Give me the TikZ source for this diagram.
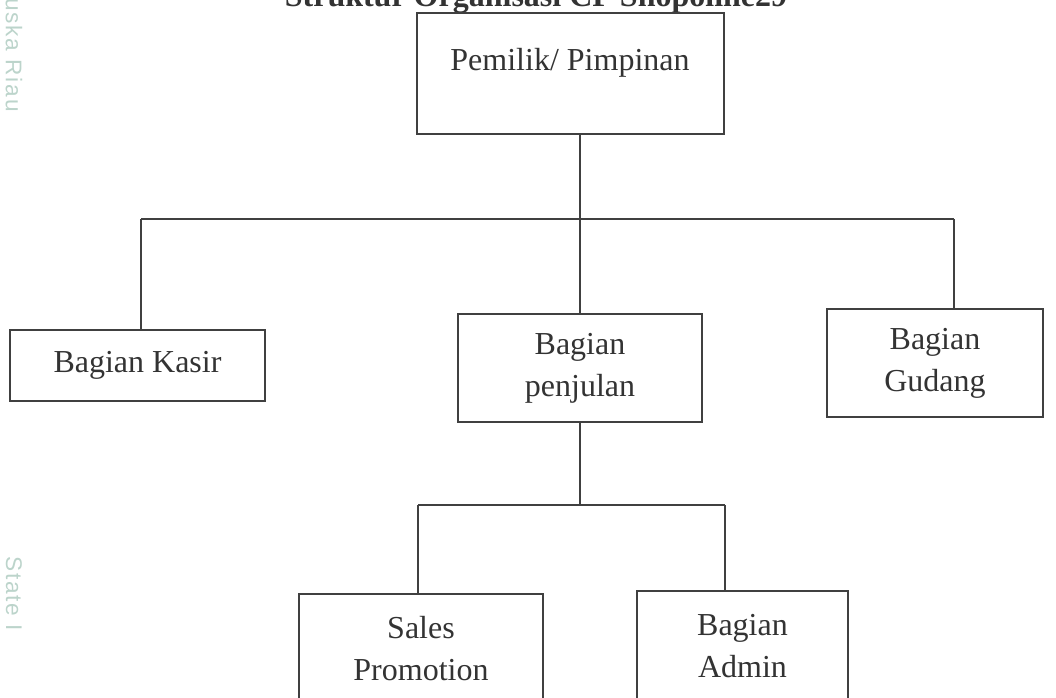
\documentclass[tikz,border=0pt]{standalone}
\usepackage{fontspec}
\setmainfont{Liberation Serif}
\newfontfamily\tandaair[LetterSpace=8]{Liberation Sans}
\usepackage{tikz}
\usetikzlibrary{positioning}
\definecolor{garis}{RGB}{64,64,64}
\definecolor{teks}{RGB}{51,51,51}
\definecolor{tanda}{RGB}{188,212,203}

\begin{document}
\begin{tikzpicture}[x=0.75pt,y=-0.75pt,
    kotak/.style={draw=garis,line width=1.2pt,rectangle,inner sep=0pt,align=center,
      text=teks,font=\fontsize{24}{31.5}\selectfont},
    garishub/.style={draw=garis,line width=1.2pt},
    tandateks/.style={rotate=-90,anchor=west,inner sep=0pt,text=tanda,
      font=\tandaair\fontsize{17}{17}\selectfont}]
    \useasboundingbox (0,0) rectangle (1056,698);
    \clip (0,0) rectangle (1056,698);
    % Tanda air di tepi kiri
    \node[tandateks] (tandaatas) at (14,-2) {uska Riau};
    \node[tandateks] (tandabawah) at (14,556) {State I};
    % Judul (terpotong di atas)
    \node[anchor=base,inner sep=0pt,text=teks,font=\bfseries\fontsize{24}{24}\selectfont] (judul) at (536,7) {Struktur Organisasi CP Shopoline29};
    % Kotak pimpinan
    \node[kotak,minimum width=230.25pt,minimum height=90.75pt] (pemilik) at (570.5,73.5) {};
    \node[anchor=base,inner sep=0pt,text=teks,font=\fontsize{24}{24}\selectfont] (pemilikteks) at (570,71) {Pemilik/ Pimpinan};
    % Bagian-bagian
    \node[kotak,minimum width=191.25pt,minimum height=53.25pt] (kasir) at (137.5,365.5) {Bagian Kasir};
    \node[kotak,minimum width=183pt,minimum height=81pt] (penjualan) at (580,368) {Bagian\\penjulan};
    \node[kotak,minimum width=162pt,minimum height=81pt] (gudang) at (935,363) {Bagian\\Gudang};
    \node[kotak,minimum width=183pt,minimum height=82.5pt] (sales) at (421,649) {Sales\\Promotion};
    \node[kotak,minimum width=158.25pt,minimum height=82.5pt] (admin) at (742.5,646) {Bagian\\Admin};
    % Garis ke bagian
    \coordinate (busKiri) at (141,219);
    \coordinate (busKanan) at (954,219);
    \draw[garishub] (pemilik.south -| penjualan.north) -- (penjualan.north);
    \draw[garishub] (busKiri) -- (busKanan);
    \draw[garishub] (busKiri) -- (busKiri |- kasir.north);
    \draw[garishub] (busKanan) -- (busKanan |- gudang.north);
    % Cabang bagian penjualan
    \coordinate (subKiri) at (418,505);
    \coordinate (subKanan) at (725,505);
    \draw[garishub] (penjualan.south) -- (penjualan.south |- subKiri);
    \draw[garishub] (subKiri) -- (subKanan);
    \draw[garishub] (subKiri) -- (subKiri |- sales.north);
    \draw[garishub] (subKanan) -- (subKanan |- admin.north);
\end{tikzpicture}
\end{document}
